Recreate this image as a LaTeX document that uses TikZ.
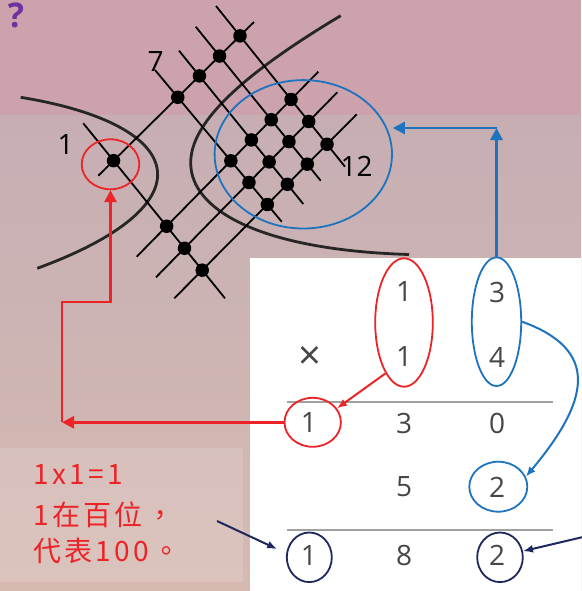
\documentclass[tikz,border=0pt]{standalone}
\usepackage{fontspec}
\setmainfont{Open Sans}
\newfontfamily\cjkfont{Noto Sans CJK TC}[LetterSpace=12]
\usepackage{xcolor}
\usepackage{tikz}
\usetikzlibrary{arrows.meta, positioning, shapes.geometric, calc}

\definecolor{markred}{RGB}{236,36,40}
\definecolor{markblue}{RGB}{30,115,190}
\definecolor{marknavy}{RGB}{30,40,95}
\definecolor{digitgray}{RGB}{70,70,70}
\definecolor{rulegray}{RGB}{160,160,160}
\definecolor{bgpink}{RGB}{204,163,173}
\definecolor{bgmauve}{RGB}{198,174,179}
\definecolor{bgsand}{RGB}{214,186,178}
\definecolor{hintpurple}{RGB}{112,48,160}

\begin{document}
\begin{tikzpicture}[
    x=1pt, y=-1pt,
    stick/.style={line width=1.8pt, black},
    dot/.style={circle, fill=black, inner sep=0pt, minimum size=13.5pt},
    branch/.style={line width=2.8pt, black!85},
    digit/.style={font=\fontsize{28}{30}\selectfont, text=digitgray, inner sep=0pt},
    count/.style={font=\fontsize{28}{30}\selectfont, text=black, inner sep=0pt},
    note/.style={font=\cjkfont\fontsize{28}{30}\selectfont, text=markred, inner sep=0pt, anchor=base west},
    ring/.style={ellipse, draw=#1, line width=1.8pt, inner sep=0pt},
    arrow/.style={-{Triangle[length=12pt, width=12pt]}, line width=2.8pt, line join=miter},
    pointer/.style={-{Latex[length=10pt, width=8pt]}, line width=2pt}
]
% Background
\useasboundingbox (0,0) rectangle (581,591);
\fill[bgpink] (0,0) rectangle (581,116);
\shade[top color=bgmauve, bottom color=bgsand] (0,116) rectangle (581,591);
\fill[white, opacity=0.15] (0,448) rectangle (243,582);
\fill[white] (250,258) rectangle (581,591);

\node[font=\bfseries\fontsize{34}{34}\selectfont, text=hintpurple, inner sep=0pt] (hint) at (16,15) {?};

% Branches
\draw[branch] (20.7,97.3) .. controls (190,125) and (210,205) .. (37.3,268.3);
\draw[branch] (340.7,15.7) .. controls (250,70) and (190,120) .. (190.7,163.3)
    .. controls (191,210) and (260,250) .. (409,254.5);

% Sticks: u = 13 (tens, ones), d = 14 (tens, ones)
\coordinate (u0a) at (98.3,175.7);  \coordinate (u0b) at (254,22);
\coordinate (u1a) at (136.7,256.7); \coordinate (u1b) at (318.3,71.7);
\coordinate (u2a) at (156,277.3);   \coordinate (u2b) at (337.3,92.3);
\coordinate (u3a) at (174.3,298.3); \coordinate (u3b) at (356.7,114.3);
\coordinate (d0a) at (83.3,123.3);  \coordinate (d0b) at (225,298.3);
\coordinate (d1a) at (155,70);      \coordinate (d1b) at (281.7,221.7);
\coordinate (d2a) at (179,50.7);    \coordinate (d2b) at (303.3,204);
\coordinate (d3a) at (195.7,26.7);  \coordinate (d3b) at (320.7,180.7);
\coordinate (d4a) at (216,6);       \coordinate (d4b) at (345,166.7);
\foreach \k in {0,...,3} \draw[stick] (u\k a) -- (u\k b);
\foreach \k in {0,...,4} \draw[stick] (d\k a) -- (d\k b);

% Crossings
\foreach \i in {0,...,3}
  \foreach \j in {0,...,4}
    \node[dot] (x\i\j) at (intersection of u\i a--u\i b and d\j a--d\j b) {};

\node[count] (lblone) at (65.7,145) {1};
\node[count] (lblseven) at (155.7,61.7) {7};
\node[count] (lbltwelve) at (356.7,166.7) {12};

\node[ring=markred, minimum width=57.6pt, minimum height=50pt] (tensring) at (110.5,164.3) {};
\node[ring=markblue, minimum width=177.4pt, minimum height=148.4pt] (onesring) at (303.3,154.3) {};

% Working
\node[digit] (a1) at (404,292) {1};
\node[digit] (a2) at (497,292) {3};
\node[digit, font=\fontsize{40}{40}\selectfont] (times) at (310,358) {×};
\node[digit] (b1) at (404,357) {1};
\node[digit] (b2) at (497,357) {4};
\node[digit] (p1) at (309,423) {1};
\node[digit] (p2) at (404,423) {3};
\node[digit] (p3) at (497,423) {0};
\node[digit] (q2) at (404,487) {5};
\node[digit] (q3) at (497,487) {2};
\node[digit] (r1) at (309,555) {1};
\node[digit] (r2) at (404,555) {8};
\node[digit] (r3) at (497,555) {2};
\draw[rulegray, line width=1.5pt] (287,402) -- (553,402);
\draw[rulegray, line width=1.5pt] (287,530) -- (553,530);

\node[ring=markred, minimum width=57.6pt, minimum height=128.4pt] (tenspair) at (404,322.5) {};
\node[ring=markblue, minimum width=49.4pt, minimum height=128.6pt] (onespair) at (496.5,321.7) {};
\node[ring=markred, minimum width=56.4pt, minimum height=49pt] (hundredring) at (312.7,422.3) {};
\node[ring=markblue, minimum width=58pt, minimum height=50pt] (unitring) at (498.3,486.7) {};
\node[ring=marknavy, minimum width=45pt, minimum height=49.6pt] (ansH) at (309.3,557.3) {};
\node[ring=marknavy, minimum width=45.6pt, minimum height=49.6pt] (ansU) at (500,557.3) {};

% Note
\node[note] (note1) at (33,484) {1x1=1};
\node[note] (note2) at (33,525) {1在百位，};
\node[note] (note3) at (33,561) {代表100。};

% Arrows
\coordinate (redturn) at (62,422.3);
\coordinate (blueturn) at (496.5,128);
\coordinate (notetip) at (217,521);
\coordinate (edgetip) at (583,537);
\draw[arrow, markred] (hundredring.west) -- (redturn);
\draw[arrow, markred] (redturn) -- ++(0,-120.3) -| (tensring.south);
\draw[arrow, markblue] (onespair.north) -- (blueturn);
\draw[arrow, markblue] (blueturn) -- (blueturn -| onesring.east);
\draw[pointer, markred] (tenspair.250) -- (hundredring.30);
\draw[pointer, markblue] (onespair.east) .. controls (600,350) and (590,400) .. (unitring.20);
\draw[pointer, marknavy, shorten >=10pt] (notetip) -- (ansH.170);
\draw[pointer, marknavy] (edgetip) -- (ansU.15);
\end{tikzpicture}
\end{document}
